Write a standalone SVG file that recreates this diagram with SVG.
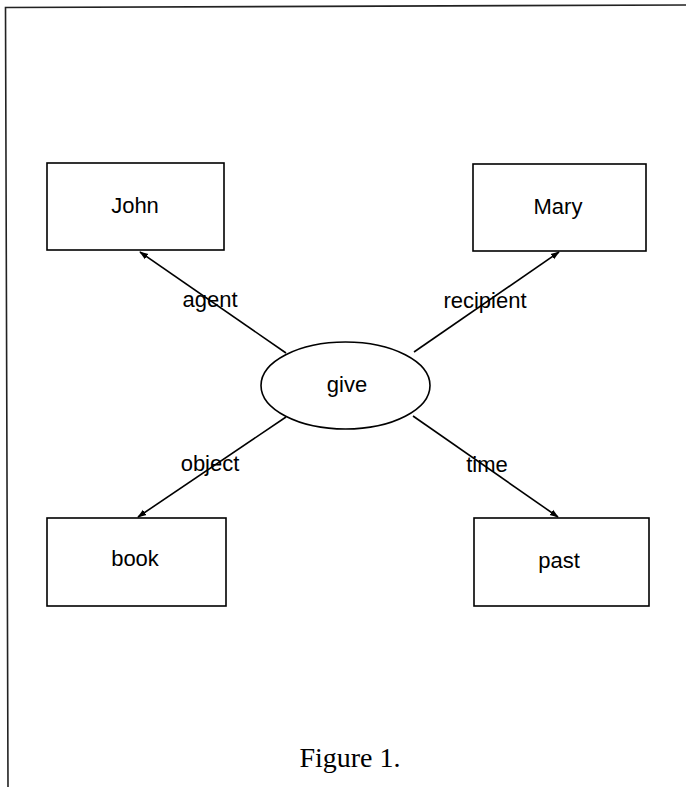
<svg xmlns="http://www.w3.org/2000/svg" width="686" height="787" viewBox="0 0 686 787">
<defs>
<style>
.node{fill:#fff;stroke:#000;stroke-width:1.6}
.lbl{font-family:"Liberation Sans",Arial,sans-serif;font-size:22px;fill:#000;text-anchor:middle}
.edge{stroke:#000;stroke-width:1.6;fill:none}
.cap{font-family:"Liberation Serif","Times New Roman",serif;font-size:28px;fill:#000;text-anchor:middle}
</style>
<marker id="arr" viewBox="0 0 10 10" refX="9" refY="5" markerWidth="9" markerHeight="9" markerUnits="userSpaceOnUse" orient="auto">
<path d="M0,1.5 L10,5 L0,8.5 z" fill="#000"/>
</marker>
</defs>
<rect width="686" height="787" fill="#fff"/>
<polyline points="8,787 5.5,7.5 686,5" fill="none" stroke="#222" stroke-width="1.6"/>
<g id="connectors">
<line class="edge" x1="286" y1="353" x2="140" y2="252" marker-end="url(#arr)"/>
<line class="edge" x1="414" y1="352" x2="559" y2="252" marker-end="url(#arr)"/>
<line class="edge" x1="286" y1="417" x2="138" y2="517" marker-end="url(#arr)"/>
<line class="edge" x1="413" y1="416" x2="558" y2="517" marker-end="url(#arr)"/>
<text class="lbl" x="210" y="307">agent</text>
<text class="lbl" x="485" y="308">recipient</text>
<text class="lbl" x="210" y="471">object</text>
<text class="lbl" x="487" y="472">time</text>
</g>
<g id="give">
<ellipse class="node" cx="345.5" cy="385.5" rx="84.5" ry="43.5"/>
<text class="lbl" x="347" y="392">give</text>
</g>
<g id="john">
<rect class="node" x="47" y="163" width="177" height="87"/>
<text class="lbl" x="135" y="213">John</text>
</g>
<g id="mary">
<rect class="node" x="473" y="164" width="173" height="87"/>
<text class="lbl" x="558" y="214">Mary</text>
</g>
<g id="book">
<rect class="node" x="47" y="518" width="179" height="88"/>
<text class="lbl" x="135" y="566">book</text>
</g>
<g id="past">
<rect class="node" x="474" y="518" width="175" height="88"/>
<text class="lbl" x="559" y="568">past</text>
</g>
<text class="cap" x="350" y="767">Figure 1.</text>
</svg>
